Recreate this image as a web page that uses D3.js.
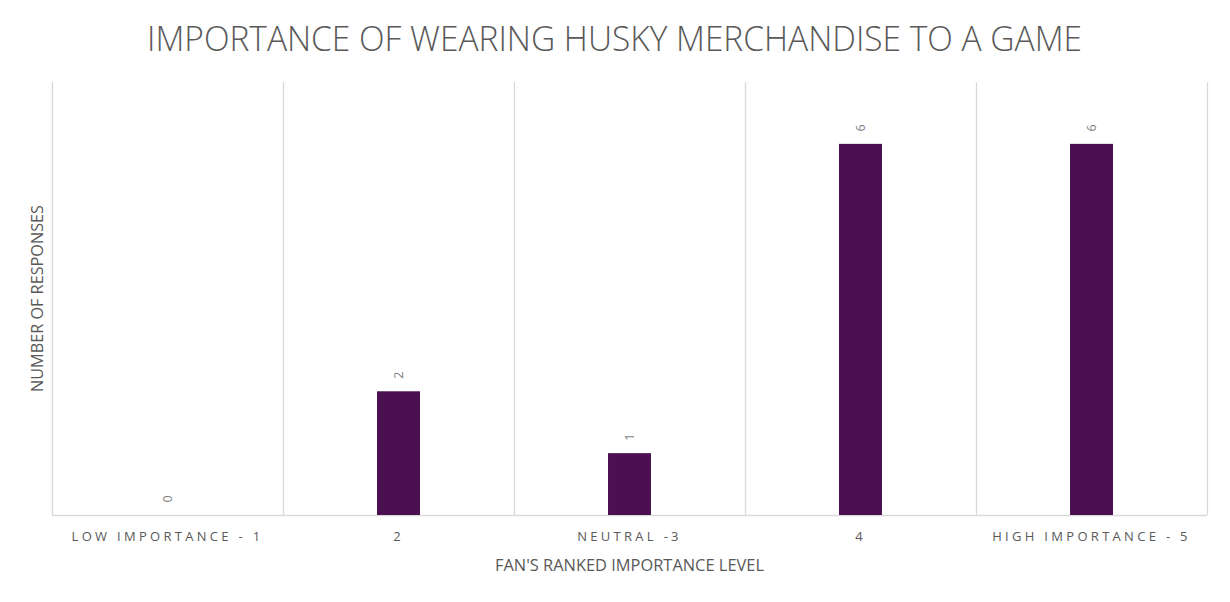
<!DOCTYPE html>
<html><head><meta charset="utf-8">
<script src="https://cdn.jsdelivr.net/npm/d3@7"></script>
<style>body{margin:0;background:#fff;} text{font-family:"Open Sans","Noto Sans",sans-serif;}</style>
</head><body><svg id="c" width="1230" height="602"></svg>
<script>
const categories = ["LOW IMPORTANCE - 1", "2", "NEUTRAL -3", "4", "HIGH IMPORTANCE - 5"];
const values = [0, 2, 1, 6, 6];
const yMax = 7;
const title = "IMPORTANCE OF WEARING HUSKY MERCHANDISE TO A GAME";
const xTitle = "FAN'S RANKED IMPORTANCE LEVEL";
const yTitle = "NUMBER OF RESPONSES";

const svg = d3.select("#c");
const m = {left: 52, right: 1230 - 1207, top: 82, bottom: 602 - 515};
const W = 1230, H = 602;
const x = d3.scaleBand().domain(categories).range([m.left, W - m.right]).paddingInner(0).paddingOuter(0);
const y = d3.scaleLinear().domain([0, yMax]).range([H - m.bottom, m.top]);
const grey = "#595959";

// vertical gridlines at band boundaries
const bounds = categories.map(c => x(c)).concat([x(categories[categories.length-1]) + x.bandwidth()]);
svg.append("g").selectAll("line").data(bounds).join("line")
  .attr("x1", d => d + 0.5).attr("x2", d => d + 0.5)
  .attr("y1", y(yMax)).attr("y2", y(0))
  .attr("stroke", "#d9d9d9").attr("stroke-width", 1.3);

// baseline
svg.append("line").attr("x1", m.left).attr("x2", W - m.right)
  .attr("y1", y(0) + 0.5).attr("y2", y(0) + 0.5)
  .attr("stroke", "#d9d9d9").attr("stroke-width", 1.5);

const bw = x.bandwidth() * 0.186;
svg.append("g").selectAll("rect").data(values).join("rect")
  .attr("x", (d, i) => x(categories[i]) + x.bandwidth() / 2 - bw / 2)
  .attr("width", bw)
  .attr("y", d => y(d))
  .attr("height", d => y(0) - y(d))
  .attr("fill", "#4a1050");

// data labels rotated
svg.append("g").selectAll("text").data(values).join("text")
  .attr("transform", (d, i) => `translate(${x(categories[i]) + x.bandwidth()/2 + 4},${y(d) - 16}) rotate(-90)`)
  .attr("text-anchor", "middle")
  .attr("font-size", 12.5).attr("fill", "#7f7f7f")
  .text(d => d);

// x tick labels
const xAxis = d3.axisBottom(x).tickSize(0).tickPadding(0);
const gx = svg.append("g").attr("transform", `translate(0,${y(0)})`).call(xAxis);
gx.select(".domain").remove();
gx.selectAll("text").attr("dy", null).attr("y", 26)
  .attr("font-size", 13).attr("fill", grey).attr("letter-spacing", "3.3px")
  .style("font-family", '"Open Sans","Noto Sans",sans-serif');

// title
svg.append("text").attr("x", 614.5).attr("y", 51)
  .attr("text-anchor", "middle").attr("font-size", 34).attr("fill", grey)
  .attr("textLength", 935).attr("lengthAdjust", "spacingAndGlyphs")
  .style("font-weight", 300)
  .text(title);

// axis titles
svg.append("text").attr("x", (m.left + W - m.right) / 2).attr("y", 571)
  .attr("text-anchor", "middle").attr("font-size", 15.5).attr("fill", grey)
  .attr("textLength", 269).attr("lengthAdjust", "spacingAndGlyphs")
  .text(xTitle);
svg.append("text").attr("transform", `translate(43,${(y(0) + y(yMax)) / 2}) rotate(-90)`)
  .attr("text-anchor", "middle").attr("font-size", 15.5).attr("fill", grey)
  .attr("textLength", 187).attr("lengthAdjust", "spacingAndGlyphs")
  .text(yTitle);
</script></body></html>
